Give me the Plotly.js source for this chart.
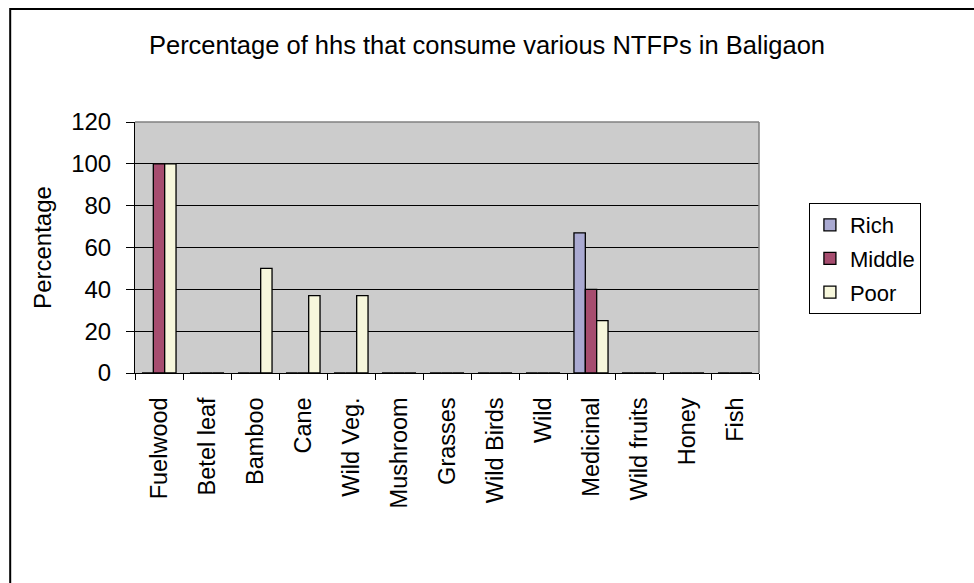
<!DOCTYPE html>
<html>
<head>
<meta charset="utf-8">
<script src="https://cdn.plot.ly/plotly-3.0.1.min.js"></script>
<style>html,body{margin:0;padding:0;background:#fff;}#chart{width:974px;height:583px;}</style>
</head>
<body>
<div id="chart"></div>
<script>
const categories = ["Fuelwood","Betel leaf","Bamboo","Cane","Wild Veg.","Mushroom","Grasses","Wild Birds","Wild","Medicinal","Wild fruits","Honey","Fish"];
const rich   = [0, 0, 0, 0, 0, 0, 0, 0, 0, 67, 0, 0, 0];
const middle = [100, 0, 0, 0, 0, 0, 0, 0, 0, 40, 0, 0, 0];
const poor   = [100, 0, 50, 37, 37, 0, 0, 0, 0, 25, 0, 0, 0];
const yTicks = [0, 20, 40, 60, 80, 100, 120];

const font = "Arial, 'Liberation Sans', sans-serif";
function series(name, vals, color) {
  return {
    type: 'bar', name: name, x: categories, y: vals, legendgroup: name,
    marker: {color: color, line: {color: '#000', width: 1.3}},
    hoverinfo: 'skip'
  };
}
const data = [
  series('Rich', rich, '#AAAAD2'),
  series('Middle', middle, '#A64D6F'),
  series('Poor', poor, '#F7F7DC')
];
const layout = {
  width: 974, height: 583,
  margin: {l: 135, r: 215, t: 122, b: 210},
  paper_bgcolor: '#ffffff',
  plot_bgcolor: '#CCCCCC',
  font: {family: font, color: '#000'},
  title: {text: 'Percentage of hhs that consume various NTFPs in Baligaon', font: {size: 25.5, family: font}, x: 0.5, xref: 'container', xanchor: 'center', y: 0.922, yanchor: 'middle'},
  barmode: 'group',
  bargap: 0.29,
  bargroupgap: 0,
  showlegend: true,
  legend: {
    x: 1.08, xanchor: 'left', y: 0.456, yanchor: 'middle',
    bordercolor: '#000', borderwidth: 1, bgcolor: '#fff',
    font: {size: 22, family: font},
    tracegroupgap: 2, itemwidth: 30
  },
  xaxis: {
    type: 'category',
    tickangle: -90,
    tickfont: {size: 23.5, family: font},
    ticks: 'outside', ticklen: 6, tickcolor: '#000', tickwidth: 1,
    tickson: 'boundaries',
    ticklabelstandoff: 14,
    showline: true, linecolor: '#000', linewidth: 1,
    showgrid: false, zeroline: false, fixedrange: true
  },
  yaxis: {
    range: [0, 120],
    tickvals: yTicks,
    ticktext: yTicks.map(String),
    tickfont: {size: 24, family: font},
    ticks: 'outside', ticklen: 8, tickcolor: '#000', tickwidth: 1,
    ticklabelstandoff: 10,
    showline: true, linecolor: '#000', linewidth: 1,
    showgrid: true, gridcolor: '#000', gridwidth: 1,
    zeroline: false,
    title: {text: 'Percentage', font: {size: 24, family: font}, standoff: 12},
    fixedrange: true
  },
  shapes: [
    {type: 'line', xref: 'paper', yref: 'paper', x0: 1, x1: 1, y0: 0, y1: 1, line: {color: '#808080', width: 1.5}},
    {type: 'line', xref: 'paper', yref: 'paper', x0: 0, x1: 1, y0: 1, y1: 1, line: {color: '#808080', width: 1.5}},
    {type: 'rect', xref: 'paper', yref: 'paper', x0: -0.2, x1: 1.45, y0: -1.0, y1: 1.45, line: {color: '#000', width: 2}, fillcolor: 'rgba(0,0,0,0)', layer: 'below'}
  ]
};
Plotly.newPlot('chart', data, layout, {displayModeBar: false, staticPlot: true});
</script>
</body>
</html>
